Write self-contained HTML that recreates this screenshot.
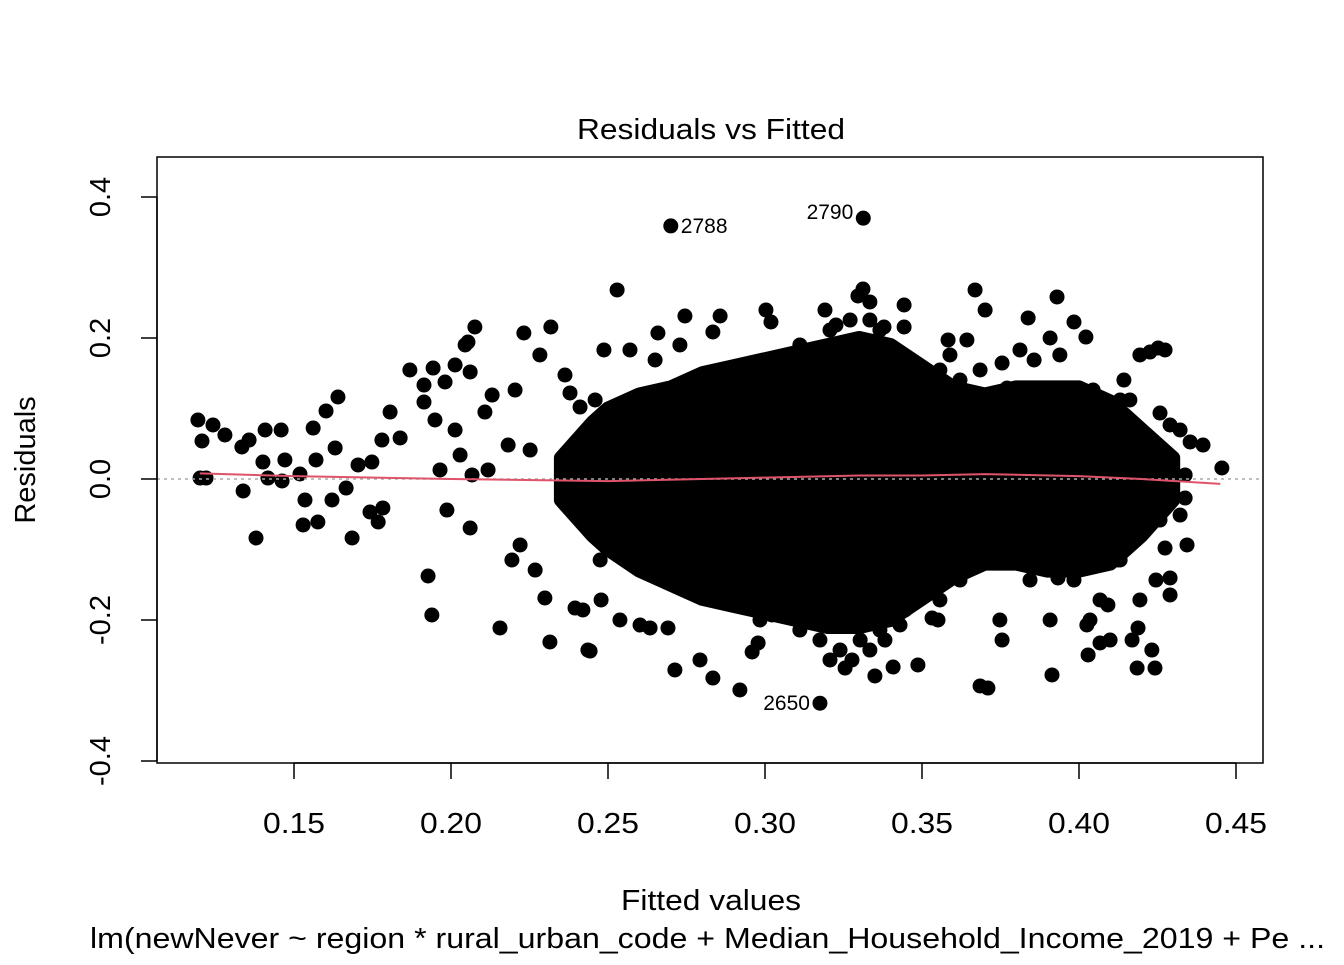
<!DOCTYPE html>
<html><head><meta charset="utf-8">
<style>
html,body{margin:0;padding:0;background:#fff;}
svg text{font-family:"Liberation Sans",Arial,sans-serif;fill:#000;}
</style></head>
<body>
<svg id="chart" width="1344" height="960" viewBox="0 0 1344 960" xmlns="http://www.w3.org/2000/svg">
<rect width="1344" height="960" fill="#fff"/>
<text x="577" y="139" font-size="29" textLength="268" lengthAdjust="spacingAndGlyphs">Residuals vs Fitted</text>
<g id="core"></g>
<g id="pts"></g>
<line x1="157" x2="1263" y1="479" y2="479" stroke="#aaa" stroke-width="1.5" stroke-dasharray="3,4"/>
<path id="smooth" fill="none" stroke="#DF536B" stroke-width="2"/>
<g id="labels"></g>
<rect x="157" y="157" width="1106" height="606" fill="none" stroke="#000" stroke-width="1.5"/>
<g id="xaxis"></g>
<g id="yaxis"></g>
<text x="621" y="910" font-size="29" textLength="180" lengthAdjust="spacingAndGlyphs">Fitted values</text>
<text transform="translate(35,460) rotate(-90)" font-size="29" text-anchor="middle">Residuals</text>
<text x="90" y="948" font-size="29" textLength="1235" lengthAdjust="spacingAndGlyphs">lm(newNever ~ region * rural_urban_code + Median_Household_Income_2019 + Pe ...</text>
</svg>
<script>
const xTicks=[0.15,0.2,0.25,0.3,0.35,0.4,0.45];
const xTickLabels=["0.15","0.20","0.25","0.30","0.35","0.40","0.45"];
const yTicks=[-0.4,-0.2,0,0.2,0.4];
const yTickLabels=["-0.4","-0.2","0.0","0.2","0.4"];
// dense core envelope: fitted x, lower residual, upper residual
const coreX=[0.235,0.245,0.25,0.26,0.27,0.28,0.29,0.30,0.31,0.32,0.33,0.34,0.35,0.36,0.37,0.38,0.39,0.40,0.41,0.42,0.43];
const coreLo=[-0.03,-0.08,-0.10,-0.13,-0.15,-0.17,-0.18,-0.19,-0.20,-0.21,-0.21,-0.20,-0.17,-0.14,-0.12,-0.12,-0.13,-0.13,-0.12,-0.08,-0.03];
const coreHi=[0.03,0.08,0.10,0.12,0.13,0.15,0.16,0.17,0.18,0.19,0.20,0.19,0.16,0.13,0.12,0.13,0.13,0.13,0.11,0.07,0.03];
// scattered points (pixel-read, converted)
const rawPx=[[198,420],[202,441],[213,425],[225,435],[200,478],[206,478],[242,447],[249,440],[265,430],[281,430],[263,462],[285,460],[243,491],[256,538],[268,478],[282,481],[300,474],[303,525],[305,500],[316,460],[318,522],[313,428],[326,411],[338,397],[335,448],[332,500],[346,488],[352,538],[358,465],[372,462],[370,512],[383,508],[378,522],[382,440],[390,412],[400,438],[410,370],[424,385],[433,368],[445,382],[455,365],[465,345],[468,342],[475,327],[470,372],[428,576],[432,615],[424,402],[435,420],[440,470],[447,510],[455,430],[460,455],[472,475],[470,528],[488,470],[485,412],[492,395],[500,628],[508,445],[515,390],[512,560],[520,545],[524,333],[540,355],[551,327],[530,450],[535,570],[545,598],[550,642],[565,375],[570,393],[580,407],[575,608],[583,610],[588,650],[590,651],[601,600],[600,520],[604,350],[617,290],[620,620],[630,350],[640,625],[650,628],[655,360],[658,333],[668,628],[665,580],[675,670],[680,345],[685,316],[700,660],[713,678],[713,332],[720,316],[735,600],[740,690],[752,652],[758,643],[766,310],[771,322],[772,615],[790,604],[800,345],[825,310],[836,325],[858,296],[863,289],[870,302],[877,344],[884,327],[904,305],[904,327],[885,640],[893,667],[918,665],[932,618],[938,620],[950,355],[948,340],[967,340],[975,290],[985,310],[980,370],[1002,363],[1003,394],[1005,420],[1007,388],[980,686],[988,688],[1002,640],[1000,620],[1028,318],[1020,350],[1034,360],[1050,338],[1060,355],[1057,297],[1074,322],[1086,337],[1093,390],[1075,392],[1045,555],[1058,578],[1050,620],[1052,675],[1074,580],[1090,620],[1088,655],[1100,643],[1110,640],[1124,380],[1140,355],[1150,352],[1158,348],[1165,350],[1130,400],[1160,413],[1170,425],[1180,430],[1190,442],[1203,445],[1222,468],[1185,475],[1185,498],[1180,515],[1187,545],[1160,520],[1165,548],[1170,578],[1170,595],[1156,580],[1140,600],[1138,628],[1137,668],[1152,650],[1155,668],[1132,640],[1087,625],[1100,600],[1108,605],[1118,560],[1130,500],[1140,460],[820,640],[830,660],[845,668],[852,660],[840,650],[860,640],[870,650],[875,676],[880,630],[900,625],[905,610],[910,600],[800,630],[810,622],[760,620],[745,600],[830,330],[845,345],[850,320],[858,340],[870,320],[880,330],[890,350],[1020,560],[1030,580],[1000,560],[1170,470],[1160,500],[590,430],[585,520],[595,400],[600,560],[1150,440],[1150,520],[1120,400],[1120,560],[960,380],[960,580],[940,600],[940,370]];
const fittedVals=rawPx.map(p=>+((p[0]+177)/3140).toFixed(4));
const residVals=rawPx.map(p=>+((479-p[1])/705).toFixed(4));
const smoothX=[0.12,0.15,0.2,0.25,0.28,0.3,0.33,0.35,0.37,0.4,0.42,0.445];
const smoothY=[0.008,0.004,0.0,-0.003,0.0,0.002,0.005,0.005,0.007,0.004,0.0,-0.007];
const labelNames=["2788","2790","2650"];
const labelX=[0.2700,0.3313,0.3175];
const labelY=[0.359,0.370,-0.318];
const labelSide=["right","left","left"];

const X=v=>-177+v*3140;
const Y=v=>479-v*705;
const NS="http://www.w3.org/2000/svg";
function mk(t,a,p){const e=document.createElementNS(NS,t);for(const k in a)e.setAttribute(k,a[k]);p.appendChild(e);return e;}

const core=document.getElementById('core');
let d="M"+coreX.map((x,i)=>X(x)+","+Y(coreHi[i])).join(" L");
for(let i=coreX.length-1;i>=0;i--)d+=" L"+X(coreX[i])+","+Y(coreLo[i]);
d+=" Z";
const cp=mk('path',{d:d,fill:"#000",stroke:"#000","stroke-width":14,"stroke-linejoin":"round"},core);



const pts=document.getElementById('pts');
fittedVals.forEach((f,i)=>{
 const c=mk('circle',{cx:X(f),cy:Y(residVals[i]),r:7.5,fill:"#000"},pts);
 
 
});
labelX.forEach((f,i)=>{
 const c=mk('circle',{cx:X(f),cy:Y(labelY[i]),r:7.5,fill:"#000"},pts);
 
 
});

document.getElementById('smooth').setAttribute('d',"M"+smoothX.map((x,i)=>X(x)+","+Y(smoothY[i])).join(" L"));

const lab=document.getElementById('labels');
labelNames.forEach((n,i)=>{
 const r=labelSide[i]==="right";
 const t=mk('text',{x:X(labelX[i])+(r?10:-10),y:Y(labelY[i])+(i===1?1:7),"font-size":21,"text-anchor":r?"start":"end"},lab);
 t.textContent=n;
 
 
});

const xa=document.getElementById('xaxis');
mk('line',{x1:X(xTicks[0]),x2:X(xTicks[xTicks.length-1]),y1:763,y2:763,stroke:"#000","stroke-width":1.5},xa);
xTicks.forEach((v,i)=>{
 mk('line',{x1:X(v),x2:X(v),y1:763,y2:779,stroke:"#000","stroke-width":1.5},xa);
 const t=mk('text',{x:X(v)-31,y:833,"font-size":29,textLength:62,lengthAdjust:"spacingAndGlyphs"},xa);
 t.textContent=xTickLabels[i];
 
 
});
const ya=document.getElementById('yaxis');
mk('line',{x1:157,x2:157,y1:Y(yTicks[0]),y2:Y(yTicks[yTicks.length-1]),stroke:"#000","stroke-width":1.5},ya);
yTicks.forEach((v,i)=>{
 mk('line',{x1:141,x2:157,y1:Y(v),y2:Y(v),stroke:"#000","stroke-width":1.5},ya);
 const t=mk('text',{transform:"translate(110,"+Y(v)+") rotate(-90)","font-size":29,"text-anchor":"middle"},ya);
 t.textContent=yTickLabels[i];
 
 
});
</script>
</body></html>
